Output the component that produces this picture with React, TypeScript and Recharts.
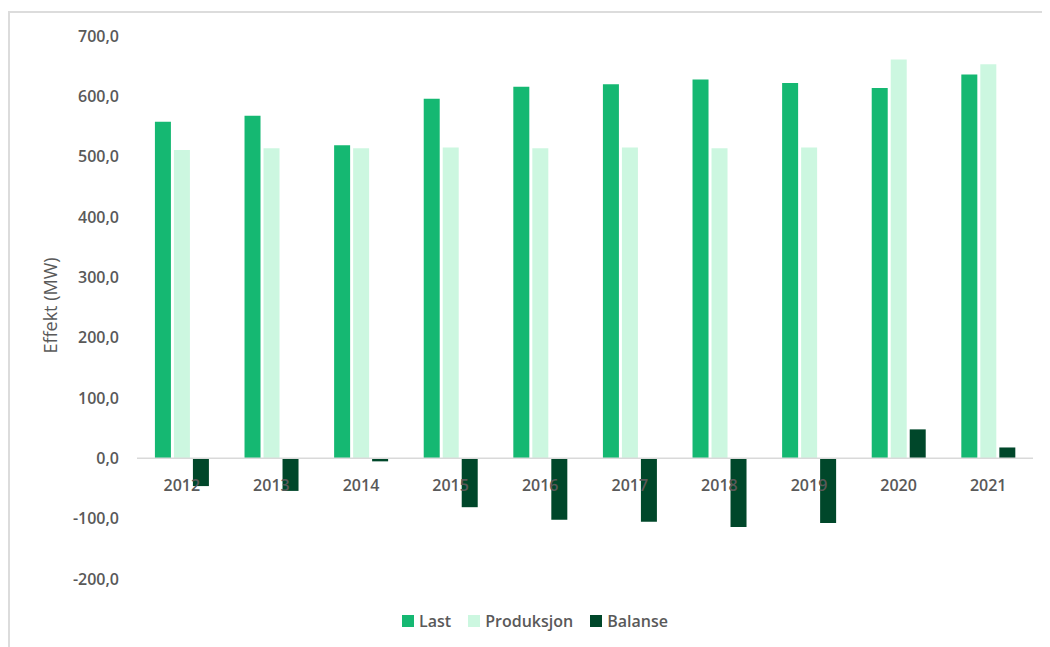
import React from 'react';
import { BarChart, Bar, XAxis, YAxis, ReferenceLine, ReferenceDot, Legend, Label } from 'recharts';

const years = ['2012', '2013', '2014', '2015', '2016', '2017', '2018', '2019', '2020', '2021'];
const last = [558, 568, 519, 596, 616, 620, 628, 622, 614, 636];
const produksjon = [511, 514, 514, 515, 514, 515, 514, 515, 661, 653];
const balanse = [-46, -54, -5, -81, -102, -105, -114, -107, 48, 18];
const yTicks = [-200, -100, 0, 100, 200, 300, 400, 500, 600, 700];

const data = years.map((y, i) => ({ year: y, Last: last[i], Produksjon: produksjon[i], Balanse: balanse[i] }));

const FONT = '"Open Sans", sans-serif';
const TEXT = '#595959';
const colors = { Last: '#15B872', Produksjon: '#CCF7E0', Balanse: '#00472A' };

const fmt = (v: number) => v.toFixed(1).replace('.', ',');

const LegendContent = () => (
  <div style={{ display: 'flex', justifyContent: 'center', alignItems: 'center', fontFamily: FONT, fontSize: 16, fontWeight: 600, color: TEXT }}>
    {(['Last', 'Produksjon', 'Balanse'] as const).map((k, i) => (
      <div key={k} style={{ display: 'flex', alignItems: 'center', marginLeft: i === 0 ? 0 : 17 }}>
        <span style={{ display: 'inline-block', width: 12, height: 12, background: colors[k], marginRight: 5 }} />
        <span>{k}</span>
      </div>
    ))}
  </div>
);

export default function App() {
  return (
    <div style={{ position: 'relative', width: 1042, height: 639, overflow: 'hidden' }}>
      <div style={{ position: 'absolute', left: 0, top: 3, width: 1042, height: 636, borderTop: '2px solid #dcdcdc', borderLeft: '2px solid #dcdcdc', boxSizing: 'border-box' }} />
      <div style={{ position: 'absolute', left: 0, top: 0 }}>
        <BarChart width={1042} height={639} data={data} margin={{ top: 28, right: 17, bottom: 68, left: 0 }} barCategoryGap="20%" barGap={3}>
          <XAxis dataKey="year" hide />
          <YAxis
            width={129}
            domain={[-200, 700]}
            ticks={yTicks}
            interval={0}
            axisLine={false}
            tickLine={false}
            tickMargin={12}
            tickFormatter={fmt}
            tick={{ fill: TEXT, fontSize: 16, fontWeight: 600, fontFamily: FONT }}
          >
            <Label
              content={(props: any) => {
                const vb = props.viewBox || { x: 0, y: 28, width: 129, height: 543 };
                const cx = vb.x + 42;
                const cy = vb.y + vb.height / 2 - 2;
                return (
                  <text x={cx} y={cy} transform={`rotate(-90, ${cx}, ${cy})`} textAnchor="middle" dominantBaseline="central" fill={TEXT} fontSize={18} fontFamily={FONT}>
                    Effekt (MW)
                  </text>
                );
              }}
            />
          </YAxis>
          <ReferenceLine y={0} stroke="#d9d9d9" strokeWidth={1.5} />
          <Bar dataKey="Last" fill={colors.Last} isAnimationActive={false} />
          <Bar dataKey="Produksjon" fill={colors.Produksjon} isAnimationActive={false} />
          <Bar dataKey="Balanse" fill={colors.Balanse} isAnimationActive={false} />
          {years.map((y) => (
            <ReferenceDot
              key={y}
              x={y}
              y={0}
              r={0}
              fill="none"
              stroke="none"
              label={{ value: y, position: 'bottom', offset: 21, fill: TEXT, fontSize: 16, fontWeight: 600, fontFamily: FONT }}
            />
          ))}
          <Legend
            verticalAlign="middle"
            align="center"
            layout="horizontal"
            content={<LegendContent />}
            wrapperStyle={{ position: 'absolute', left: 0, top: 602, width: 1054, height: 20 }}
          />
        </BarChart>
      </div>
    </div>
  );
}
